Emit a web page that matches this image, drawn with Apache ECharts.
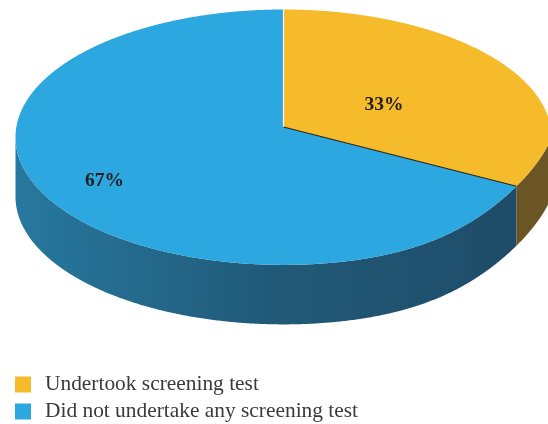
<!DOCTYPE html>
<html>
<head>
<meta charset="utf-8">
<style>html,body{margin:0;padding:0;background:#fff}#c{width:548px;height:424px}</style>
<script src="https://cdn.jsdelivr.net/npm/echarts@6/dist/echarts.min.js"></script>
</head>
<body>
<div id="c"></div>
<script>
var categories = ['Undertook screening test', 'Did not undertake any screening test'];
var shares = [33, 67];
var pctLabels = ['33%', '67%'];

var topColors = ['#F6BB2A', '#2CA7DF'];
var labelPos = [[384, 105], [104.5, 181]];
var CX = 283.5, CY = 137.2, RX = 268, RY = 127.7, DEPTH = 59.5, APEX_Y = 127;
var PERSP = -0.12, DENT = 24;
var total = shares.reduce(function (a, b) { return a + b; }, 0);

function pt(phi) {
  var a = (phi - 90) * Math.PI / 180, s = Math.sin(a), c = Math.cos(a);
  var den = 1 + PERSP * s;
  var sinT = (s + PERSP) / den, cosT = Math.sqrt(1 - PERSP * PERSP) * c / den;
  var dent = (sinT > 0 && cosT > 0) ? DENT * 2 * sinT * cosT * cosT * cosT : 0;
  return [CX + RX * cosT - dent, CY + RY * sinT];
}
function arc(from, to) {
  var out = [], n = Math.ceil((to - from) * 3);
  for (var i = 0; i <= n; i++) out.push(pt(from + (to - from) * i / n));
  return out;
}
var wallFills = [
  '#6B5524',
  { type: 'linear', x: 15, y: 0, x2: 520, y2: 0, global: true, colorStops: [
    { offset: 0, color: '#27789F' }, { offset: 0.25, color: '#24698C' },
    { offset: 0.5, color: '#215A78' }, { offset: 1, color: '#1E4C68' }] }
];

function render(seriesIdx) {
  return function (params, api) {
    var start = 0;
    for (var i = 0; i < seriesIdx; i++) start += shares[i];
    var from = start / total * 360, to = from + api.value(0) / total * 360;
    var rim = arc(from, to);
    var front = rim.filter(function (p) { return p[1] >= CY; });
    var kids = [];
    if (front.length) {
      var lower = front.slice().reverse().map(function (p) { return [p[0], p[1] + DEPTH]; });
      kids.push({ type: 'polygon', shape: { points: front.concat(lower) },
        style: { fill: wallFills[seriesIdx], stroke: null } });
    }
    kids.push({ type: 'polygon', shape: { points: [[CX, APEX_Y]].concat(rim) },
      style: { fill: topColors[seriesIdx], stroke: null } });
    if (seriesIdx === 0) {
      var a = pt(from), b = pt(to);
      kids.push({ type: 'line', z2: 50, shape: { x1: CX, y1: APEX_Y, x2: a[0], y2: a[1] },
        style: { stroke: '#ffffff', lineWidth: 1.2 } });
      kids.push({ type: 'line', z2: 50, shape: { x1: CX, y1: APEX_Y, x2: b[0], y2: b[1] },
        style: { stroke: '#2a2418', lineWidth: 1.2 } });
    }
    kids.push({ type: 'text', z2: 60, style: {
      text: pctLabels[seriesIdx], x: labelPos[seriesIdx][0], y: labelPos[seriesIdx][1],
      align: 'center', verticalAlign: 'middle', fill: '#231F20',
      font: 'bold 19.5px "Liberation Serif"' } });
    return { type: 'group', children: kids };
  };
}

var chart = echarts.init(document.getElementById('c'), null, { renderer: 'canvas' });
chart.setOption({
  animation: false,
  backgroundColor: '#ffffff',
  legend: {
    data: categories, orient: 'vertical', left: 15, top: 374,
    itemWidth: 16, itemHeight: 16, itemGap: 6, padding: 0, icon: 'rect', selectedMode: false,
    textStyle: { fontFamily: 'Liberation Serif', fontSize: 21.4, color: '#3a3a3c', padding: [0, 0, 0, 9] }
  },
  series: categories.map(function (name, i) {
    return {
      type: 'custom', name: name, coordinateSystem: 'none',
      itemStyle: { color: topColors[i] },
      data: [[shares[i]]], renderItem: render(i), silent: true
    };
  })
});
</script>
</body>
</html>
